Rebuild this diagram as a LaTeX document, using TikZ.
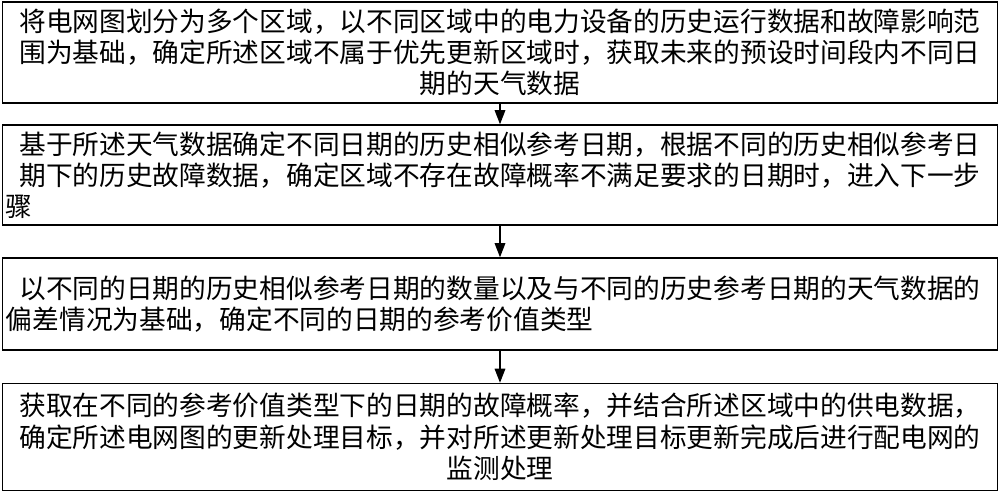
\documentclass[tikz,border=0pt]{standalone}
\usepackage{fontspec}
\newfontfamily\cjk{Noto Sans CJK SC}
\usetikzlibrary{arrows.meta}
\begin{document}
\begin{tikzpicture}[x=0.02cm,y=-0.02cm,
  box/.style={draw,line width=0.8pt,minimum width=19.9cm,align=center,font=\cjk\fontsize{15.2pt}{17.8pt}\selectfont,inner sep=0pt},
  arr/.style={-{Triangle[length=8pt,width=6pt]},line width=0.8pt}]
\useasboundingbox (0,0) rectangle (1000,493);
\node[box,minimum height=101*0.02cm] (a) at (500,52.5) {将电网图划分为多个区域，以不同区域中的电力设备的历史运行数据和故障影响范\\围为基础，确定所述区域不属于优先更新区域时，获取未来的预设时间段内不同日\\期的天气数据};
\node[box,minimum height=100*0.02cm] (b) at (500,175) {基于所述天气数据确定不同日期的历史相似参考日期，根据不同的历史相似参考日\\期下的历史故障数据，确定区域不存在故障概率不满足要求的日期时，进入下一步\\骤\hspace*{36em}};
\node[box,minimum height=92*0.02cm] (c) at (500,304) {以不同的日期的历史相似参考日期的数量以及与不同的历史参考日期的天气数据的\\偏差情况为基础，确定不同的日期的参考价值类型\hspace*{15em}};
\node[box,minimum height=107*0.02cm] (d) at (500,437) {获取在不同的参考价值类型下的日期的故障概率，并结合所述区域中的供电数据，\\确定所述电网图的更新处理目标，并对所述更新处理目标更新完成后进行配电网的\\监测处理};
\draw[arr] (a) -- (b);
\draw[arr] (b) -- (c);
\draw[arr] (c) -- (d);
\end{tikzpicture}
\end{document}
